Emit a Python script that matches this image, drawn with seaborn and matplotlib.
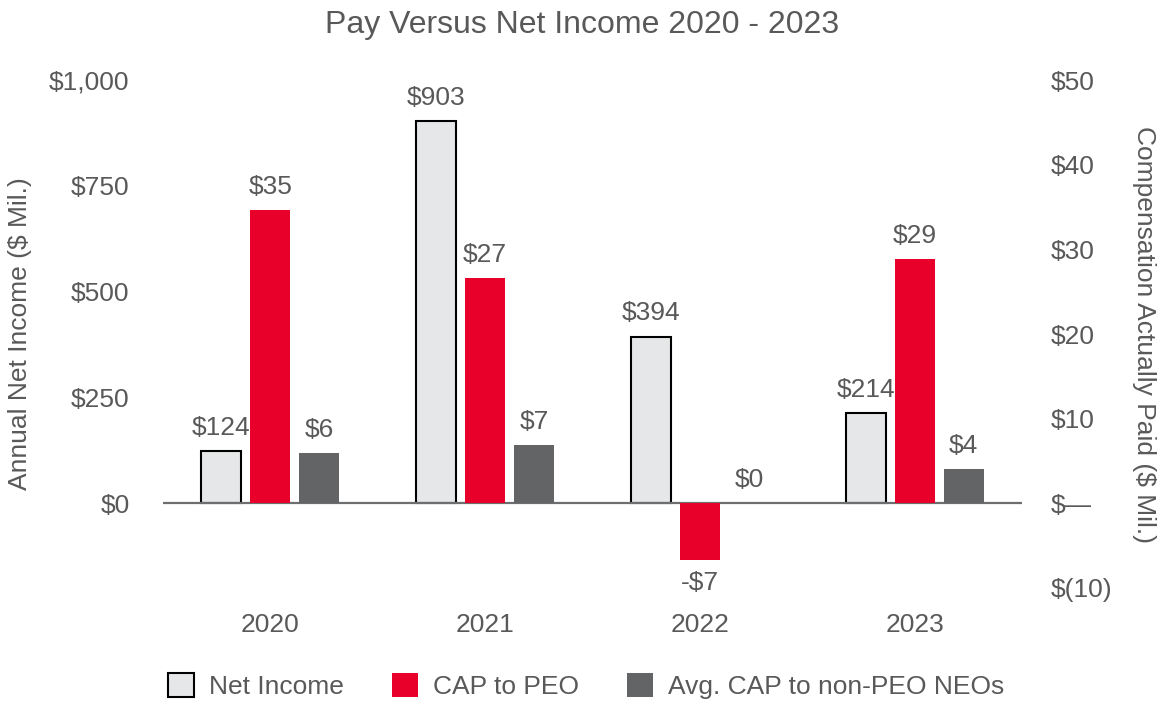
import matplotlib
matplotlib.use("Agg")
import matplotlib.pyplot as plt
from matplotlib.patches import Patch
import pandas as pd
import seaborn as sns

# ---- data ($ millions) ----
years = ["2020", "2021", "2022", "2023"]
net_income = [124, 903, 394, 214]
cap_peo = [34.6, 26.6, -6.7, 28.8]
cap_non_peo = [5.9, 6.9, 0.0, 4.1]
series = ["Net Income", "CAP to PEO", "Avg. CAP to non-PEO NEOs"]

left_ticks = [0, 250, 500, 750, 1000]
left_tick_labels = ["$0", "$250", "$500", "$750", "$1,000"]
right_ticks = [-10, 0, 10, 20, 30, 40, 50]
right_tick_labels = ["$(10)", "$\u2014", "$10", "$20", "$30", "$40", "$50"]

# ---- style ----
palette = {"Net Income": "#e6e7e8", "CAP to PEO": "#e8002b",
           "Avg. CAP to non-PEO NEOs": "#636466"}
text_color = "#595959"
fs = 19

sns.set_style("white")
plt.rcParams["font.family"] = ["Liberation Sans", "DejaVu Sans"]

ni_df = pd.DataFrame({"year": years, "value": net_income, "series": series[0]})
cap_df = pd.DataFrame({
    "year": years * 2,
    "value": cap_peo + cap_non_peo,
    "series": [series[1]] * len(years) + [series[2]] * len(years),
})

W, H = 1165, 701
fig = plt.figure(figsize=(W / 100, H / 100), dpi=100)
ax1 = fig.add_axes([163 / W, 1 - 588 / H, 859 / W, 508 / H])
ax2 = ax1.twinx()

# both axes share the same three-slot dodge so the bars sit side by side
bar_kw = dict(x="year", y="value", hue="series", hue_order=series, order=years,
              palette=palette, width=0.684, gap=0.18, saturation=1,
              dodge=True, errorbar=None, legend=False)
sns.barplot(data=ni_df, ax=ax1, edgecolor="black", linewidth=1.5, **bar_kw)
sns.barplot(data=cap_df, ax=ax2, linewidth=0, **bar_kw)

ax1.set_xlim(-0.5, 3.5)
ax1.set_ylim(-200, 1000)
ax2.set_ylim(-10, 50)

# zero baseline
ax2.axhline(0, color="#6d6e70", lw=1.6, zorder=0.9)


def money(v):
    return f"-${abs(v):.0f}" if v < 0 else f"${v:.0f}"


for c in ax1.containers:
    ax1.bar_label(c, fmt=money, padding=8, fontsize=fs, color=text_color)
for c in ax2.containers:
    ax2.bar_label(c, fmt=money, padding=8, fontsize=fs, color=text_color)

ax1.set_yticks(left_ticks, left_tick_labels)
ax2.set_yticks(right_ticks, right_tick_labels)
ax1.tick_params(axis="y", length=0, pad=24, labelsize=fs, labelcolor=text_color)
ax2.tick_params(axis="y", length=0, pad=21, labelsize=fs, labelcolor=text_color)
ax1.tick_params(axis="x", length=0, pad=18, labelsize=fs, labelcolor=text_color)

ax1.set_xlabel("")
ax1.set_ylabel("Annual Net Income ($ Mil.)", fontsize=fs, color=text_color, labelpad=12)
ax2.set_ylabel("Compensation Actually Paid ($ Mil.)", fontsize=fs, color=text_color,
               rotation=270, va="bottom", labelpad=14)

for ax in (ax1, ax2):
    for s in ax.spines.values():
        s.set_visible(False)

fig.text(0.5, 1 - 25 / H, "Pay Versus Net Income 2020 - 2023", ha="center",
         va="center", fontsize=23, color=text_color)

handles = [
    Patch(facecolor=palette[s], edgecolor="black" if s == series[0] else palette[s],
          linewidth=1.5 if s == series[0] else 0)
    for s in series
]
fig.legend(handles, series, loc="center", bbox_to_anchor=(0.503, 1 - 686 / H),
           ncol=3, frameon=False, fontsize=fs, handlelength=1.0, handleheight=1.0,
           handletextpad=0.57, columnspacing=1.8, labelcolor=text_color)

fig.savefig("out.png", dpi=100)
